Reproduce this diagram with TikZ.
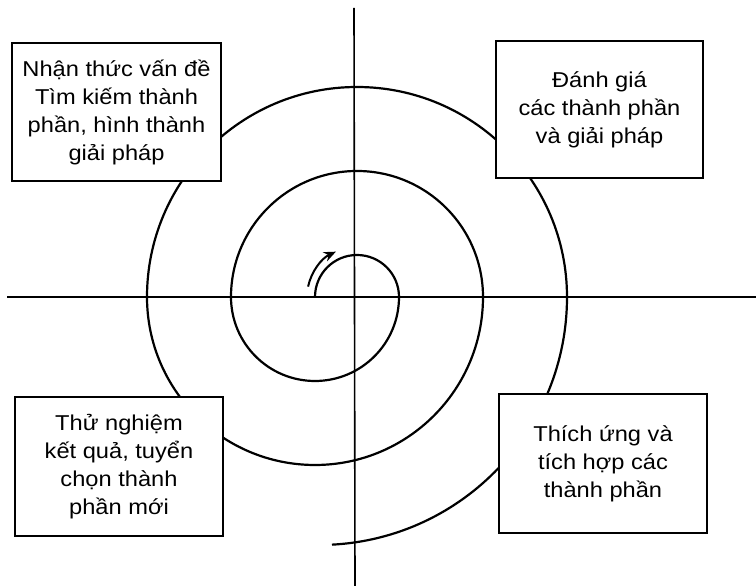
\documentclass[tikz,border=0pt]{standalone}
\usepackage{fontspec}
\setmainfont{Liberation Sans}[FakeStretch=1.1]
\usetikzlibrary{arrows.meta,calc}
\begin{document}
\begin{tikzpicture}[x=1pt,y=1pt,
  axis/.style={line width=1.6pt},
  spiral/.style={line width=2.2pt},
  box/.style={draw,line width=2pt,fill=white,rectangle,align=center,
    inner sep=0pt,font=\fontsize{21.5}{28}\selectfont}]
\useasboundingbox (0,0) rectangle (756,586);
% axes
\coordinate (vtop) at (354,578);
\coordinate (vbot) at (355,0);
\coordinate (hleft) at (7,289);
\coordinate (hright) at (756,289);
\draw[axis] (vtop) -- (vbot);
\draw[axis] (hleft) -- (hright);
% spiral of half circles
\coordinate (A) at (357,289);
\coordinate (B) at (315,289);
\coordinate (s0) at (315,289);
\draw[spiral] (s0) arc[start angle=180,end angle=0,radius=42]
  arc[start angle=0,end angle=-180,radius=84]
  arc[start angle=180,end angle=0,radius=126]
  arc[start angle=0,end angle=-180,radius=168]
  arc[start angle=180,end angle=0,radius=210]
  arc[start angle=0,end angle=-87,radius=248];
% arrow
\coordinate (a0) at ($(A)+(168:50)$);
\draw[line width=2pt,-{Stealth[length=12pt,width=10pt]}] (a0) arc[start angle=168,end angle=115,radius=50];
% boxes
\node[box,minimum width=209pt,minimum height=138pt] (tl) at (116.5,474) {Nhận thức vấn đề\\Tìm kiếm thành\\phần, hình thành\\giải pháp};
\node[box,minimum width=207pt,minimum height=137pt] (tr) at (599.5,476.5) {Đánh giá\\các thành phần\\và giải pháp};
\node[box,minimum width=208pt,minimum height=139pt] (bl) at (119,119.5) {Thử nghiệm\\kết quả, tuyển\\chọn thành\\phần mới};
\node[box,minimum width=208pt,minimum height=139pt] (br) at (603,122.5) {Thích ứng và\\tích hợp các\\thành phần};
\end{tikzpicture}
\end{document}
